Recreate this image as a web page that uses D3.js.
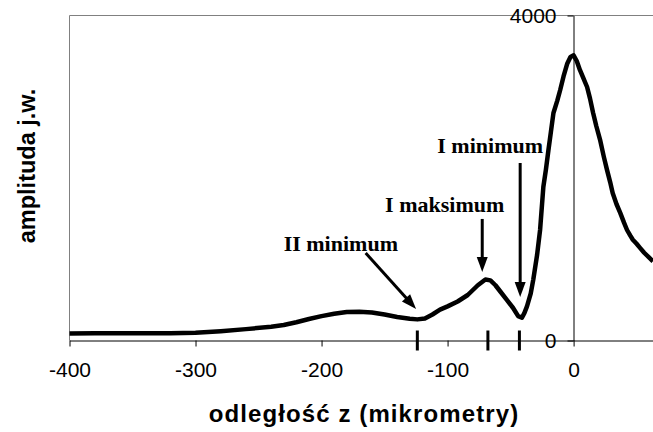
<!DOCTYPE html>
<html>
<head>
<meta charset="utf-8">
<script src="https://cdn.jsdelivr.net/npm/d3@7"></script>
<style>
body { margin: 0; background: #fff; }
</style>
</head>
<body>
<div id="chart"></div>
<script>
// curve: z (micrometres) vs amplitude
var zValues = [-400, -380, -360, -340, -320, -300, -280, -260, -240, -230, -220, -210, -200, -190, -180, -170,
    -160, -150, -140, -130, -124, -118, -112, -106, -100, -92, -84, -76, -70, -66, -62, -58, -53, -48, -44, -41,
    -39, -37, -34, -32, -29, -26.6, -24, -22, -20, -18, -16, -13, -10.7, -8, -5, -2.5, 0, 2.5, 5, 8, 10.7, 13,
    15.5, 18, 21, 24, 26.5, 29, 31, 34, 37, 40, 42.4, 45, 47, 50, 52.7, 56, 60, 63];
var ampValues = [85, 90, 88, 88, 90, 95, 115, 140, 170, 190, 225, 265, 300, 330, 352, 355,
    345, 320, 290, 268, 260, 272, 320, 380, 420, 480, 560, 680, 750, 740, 680, 600, 500, 400, 300, 280,
    340, 420, 580, 750, 1050, 1360, 1890, 2100, 2340, 2570, 2800, 2950, 3080, 3250, 3410, 3490, 3510, 3440, 3330, 3220, 3120, 2980,
    2800, 2640, 2470, 2260, 2100, 1950, 1815, 1680, 1570, 1450, 1360, 1290, 1240, 1190, 1140, 1080, 1020, 975];

var xTicks = [-400, -300, -200, -100, 0];
var yTicks = [0, 4000];
var markZ = [-124, -68, -43];

var noteLabels = ["II minimum", "I maksimum", "I minimum"];
var noteX = [-184.7, -102.3, -66.2];
var noteY = [1102, 1582, 2308];
var arrowFromZ = [-165, -72.5, -42.4];
var arrowFromA = [1077, 1496, 2185];
var arrowToZ = [-125, -72.5, -42.4];
var arrowToA = [388, 843, 535];

var W = 653, H = 432;
var padL = 69.5, padR = 653, padT = 15.5, padB = 340.5;

var svg = d3.select("#chart").append("svg")
    .attr("width", W)
    .attr("height", H)
    .style("background", "#fff");

var x = d3.scaleLinear().domain([-400, 63]).range([padL, padR]);
var y = d3.scaleLinear().domain([0, 4000]).range([padB, padT]);

// plot area frame (top + left)
svg.append("path")
    .attr("d", "M" + padL + "," + padB + "V" + padT + "H" + padR)
    .attr("fill", "none")
    .attr("stroke", "#808080")
    .attr("stroke-width", 1);

var plain = function(d) { return String(d); };

// x axis on the zero line
var xAxis = svg.append("g")
    .attr("transform", "translate(0," + padB + ")")
    .call(d3.axisBottom(x).tickValues(xTicks).tickFormat(plain).tickSize(6).tickSizeOuter(0).tickPadding(16));
xAxis.selectAll("text")
    .style("font-family", "'Liberation Sans', Arial, sans-serif")
    .style("font-size", "21px")
    .attr("fill", "#000");
xAxis.select(".domain").attr("stroke", "#000");

// y axis sits at z = 0
var y0x = Math.floor(x(0)) + 0.5;
var yAxis = svg.append("g")
    .attr("transform", "translate(" + y0x + ",0)")
    .call(d3.axisLeft(y).tickValues(yTicks).tickFormat(plain).tickSize(6).tickSizeOuter(0).tickPadding(11));
yAxis.selectAll("text")
    .style("font-family", "'Liberation Sans', Arial, sans-serif")
    .style("font-size", "21px")
    .attr("fill", "#000");
yAxis.select(".domain").attr("stroke", "#000");

// thick marks at the extrema
svg.selectAll(".mark")
    .data(markZ)
    .enter().append("line")
    .attr("class", "mark")
    .attr("x1", function(d) { return x(d); })
    .attr("x2", function(d) { return x(d); })
    .attr("y1", padB - 10)
    .attr("y2", padB + 10)
    .attr("stroke", "#000")
    .attr("stroke-width", 3);

// the curve
var line = d3.line()
    .x(function(d, i) { return x(zValues[i]); })
    .y(function(d) { return y(d); });

svg.append("path")
    .datum(ampValues)
    .attr("d", line)
    .attr("fill", "none")
    .attr("stroke", "#000")
    .attr("stroke-width", 4.5)
    .attr("stroke-linejoin", "round");

// annotations with arrows
noteLabels.forEach(function(lbl, i) {
    svg.append("text")
        .attr("x", x(noteX[i]))
        .attr("y", y(noteY[i]))
        .attr("text-anchor", "middle")
        .style("font-family", "'Liberation Serif', 'Times New Roman', serif")
        .style("font-weight", "bold")
        .style("font-size", "22px")
        .text(lbl);

    var x1 = x(arrowFromZ[i]), y1 = y(arrowFromA[i]);
    var x2 = x(arrowToZ[i]), y2 = y(arrowToA[i]);
    var dx = x2 - x1, dy = y2 - y1, len = Math.sqrt(dx * dx + dy * dy);
    var ux = dx / len, uy = dy / len;
    var headL = 15, headW = 5.5;
    var bx = x2 - ux * headL, by = y2 - uy * headL;

    svg.append("line")
        .attr("x1", x1).attr("y1", y1)
        .attr("x2", bx + ux * 2).attr("y2", by + uy * 2)
        .attr("stroke", "#000")
        .attr("stroke-width", 3);

    svg.append("path")
        .attr("d", "M" + x2 + "," + y2 +
            "L" + (bx - uy * headW) + "," + (by + ux * headW) +
            "L" + (bx + uy * headW) + "," + (by - ux * headW) + "Z")
        .attr("fill", "#000");
});

// axis titles
svg.append("text")
    .attr("x", 364)
    .attr("y", 422)
    .attr("text-anchor", "middle")
    .style("font-family", "'Liberation Sans', Arial, sans-serif")
    .style("font-weight", "bold")
    .style("font-size", "24px")
    .style("letter-spacing", "1.1px")
    .text("odległość z (mikrometry)");

svg.append("text")
    .attr("transform", "translate(35,166) rotate(-90)")
    .attr("text-anchor", "middle")
    .style("font-family", "'Liberation Sans', Arial, sans-serif")
    .style("font-weight", "bold")
    .style("font-size", "23.5px")
    .text("amplituda j.w.");
</script>
</body>
</html>
